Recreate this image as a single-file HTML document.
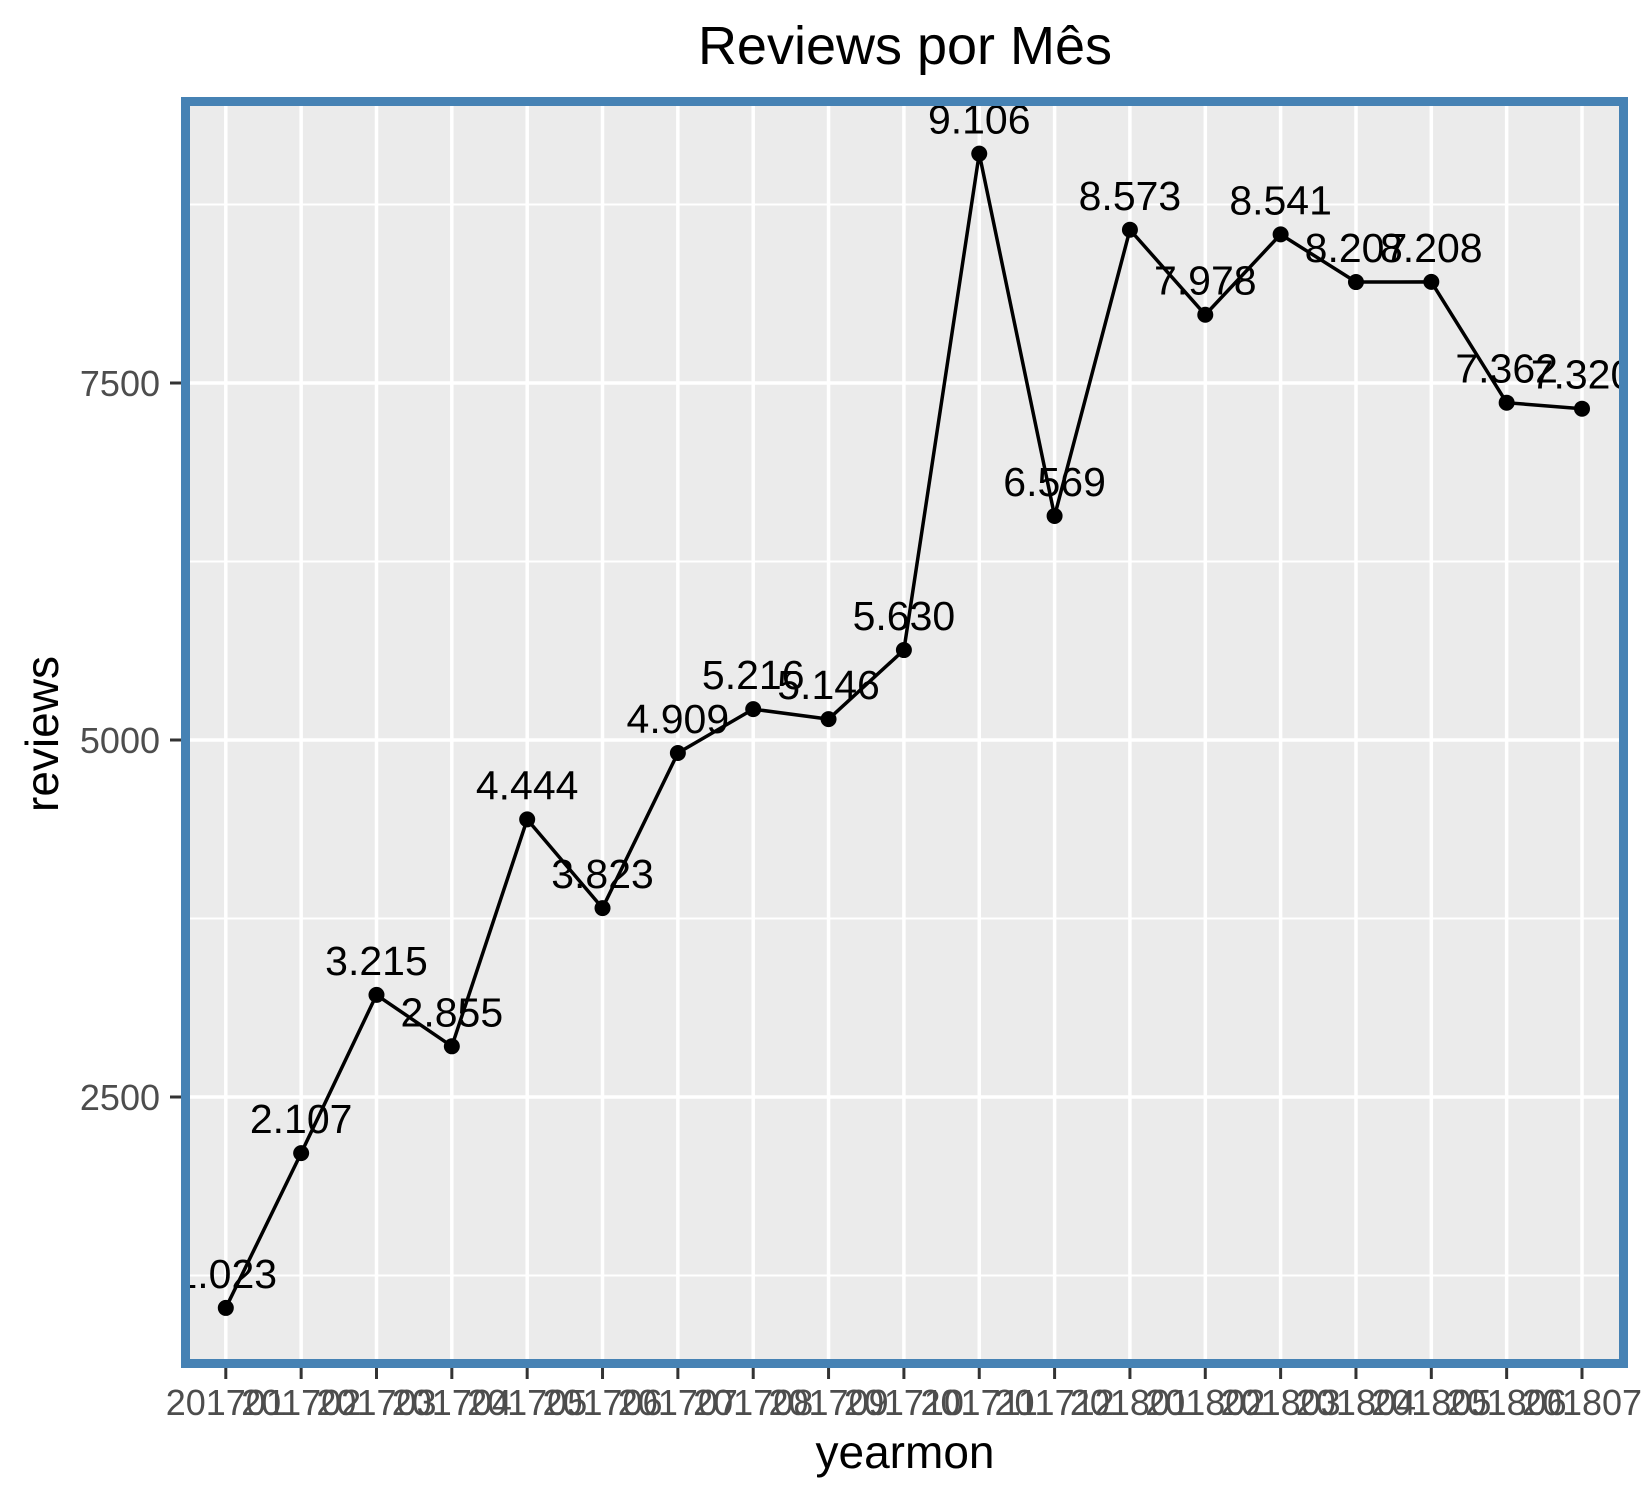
<!DOCTYPE html>
<html><head><meta charset="utf-8"><style>
html,body{margin:0;padding:0;background:#fff;}
svg text{font-family:"Liberation Sans",Arial,sans-serif;}
</style></head><body>
<svg id="chart" width="1650" height="1500" viewBox="0 0 1650 1500">
<defs><clipPath id="pc"><rect x="190" y="106" width="1429" height="1253"/></clipPath></defs>
<text x="905" y="64" text-anchor="middle" font-size="54" fill="#000">Reviews por Mês</text>
<rect x="185.5" y="101.5" width="1438" height="1262" fill="#EBEBEB" stroke="#4682B4" stroke-width="9"/>
<g id="grid" clip-path="url(#pc)"></g>
<g id="series" clip-path="url(#pc)"></g>
<g id="axes"></g>
<text x="905" y="1468" text-anchor="middle" font-size="46" fill="#000">yearmon</text>
<text transform="translate(58,734) rotate(-90)" text-anchor="middle" font-size="46" fill="#000">reviews</text>
</svg>
<script>
const categories = ["201701","201702","201703","201704","201705","201706","201707","201708","201709","201710","201711","201712","201801","201802","201803","201804","201805","201806","201807"];
const reviews = [1023,2107,3215,2855,4444,3823,4909,5216,5146,5630,9106,6569,8573,7978,8541,8207,8208,7362,7320];
const valueLabels = ["1.023","2.107","3.215","2.855","4.444","3.823","4.909","5.216","5.146","5.630","9.106","6.569","8.573","7.978","8.541","8.207","8.208","7.362","7.320"];
const yMajorTicks = [2500,5000,7500];
const yMinorTicks = [1250,3750,6250,8750];

const NS = "http://www.w3.org/2000/svg";
function xPos(i){ return 225.8 + i * (1582 - 225.8) / (categories.length - 1); }
function yPos(v){ return 383 - (v - 7500) * 0.1428; }
function mk(tag, attrs, parent){ const e = document.createElementNS(NS, tag); for (const k in attrs) e.setAttribute(k, attrs[k]); parent.appendChild(e); return e; }
const grid = document.getElementById('grid'), series = document.getElementById('series'), axes = document.getElementById('axes');

yMinorTicks.forEach(v => {
  const l = mk('line', {x1:190, x2:1619, y1:yPos(v), y2:yPos(v), stroke:'#fff', 'stroke-width':2}, grid);
  
  
});
yMajorTicks.forEach(v => {
  const l = mk('line', {x1:190, x2:1619, y1:yPos(v), y2:yPos(v), stroke:'#fff', 'stroke-width':3.5}, grid);
  
  
  const t = mk('line', {x1:170, x2:181, y1:yPos(v), y2:yPos(v), stroke:'#333', 'stroke-width':3}, axes);
  
  
  const tx = mk('text', {x:160, y:yPos(v) + 13, 'text-anchor':'end', 'font-size':36, fill:'#4D4D4D'}, axes);
  tx.textContent = String(v);
  
  
});
categories.forEach((c, i) => {
  const l = mk('line', {x1:xPos(i), x2:xPos(i), y1:106, y2:1359, stroke:'#fff', 'stroke-width':3.5}, grid);
  
  
  const t = mk('line', {x1:xPos(i), x2:xPos(i), y1:1368, y2:1379, stroke:'#333', 'stroke-width':3}, axes);
  
  
  const tx = mk('text', {x:xPos(i), y:1415, 'text-anchor':'middle', 'font-size':36, fill:'#4D4D4D'}, axes);
  tx.textContent = c;
  
  
});
const pts = reviews.map((v, i) => xPos(i) + ',' + yPos(v)).join(' ');
const line = mk('polyline', {points:pts, fill:'none', stroke:'#000', 'stroke-width':3.5}, series);


reviews.forEach((v, i) => {
  const p = mk('circle', {cx:xPos(i), cy:yPos(v), r:8, fill:'#000'}, series);
  
  
  const lb = mk('text', {x:xPos(i), y:yPos(v) - 20, 'text-anchor':'middle', 'font-size':41, fill:'#000'}, series);
  lb.textContent = valueLabels[i];
  
  
});
</script>
</body></html>
